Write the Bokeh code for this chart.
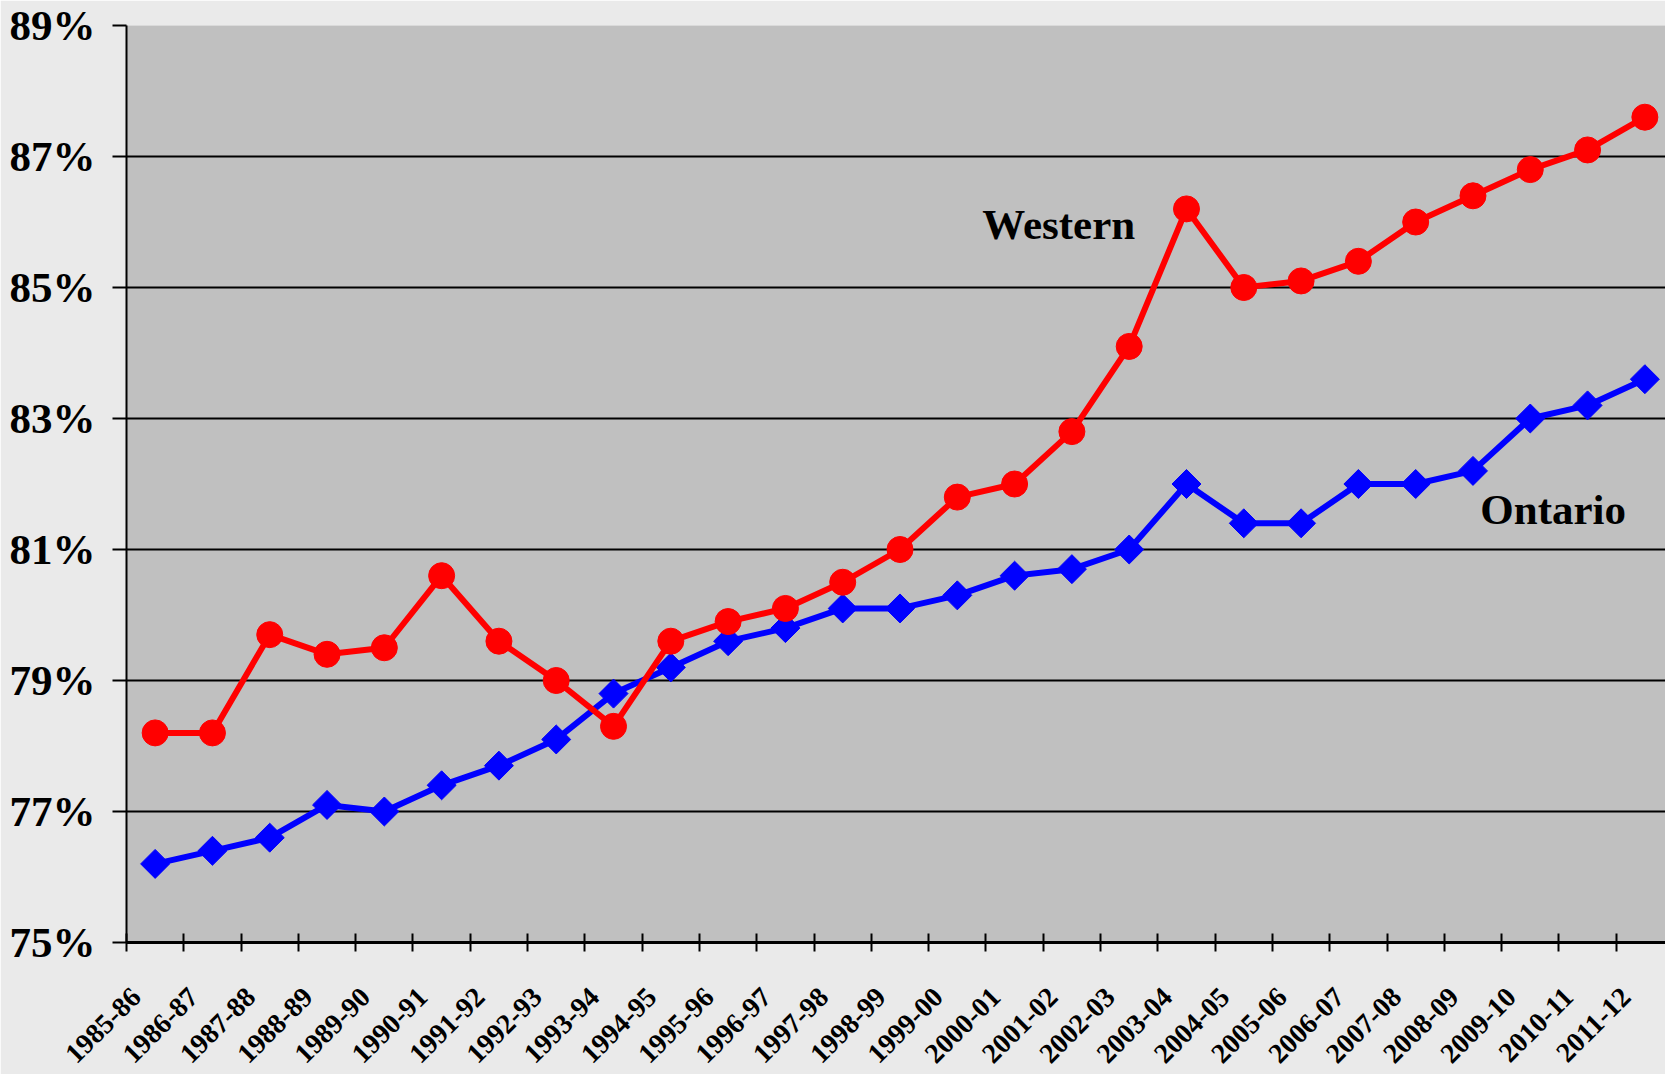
import numpy as np
from bokeh.plotting import figure
from bokeh.models import Range1d, FixedTicker, ColumnDataSource
from bokeh.core.properties import value
from bokeh.embed import file_html
from bokeh.resources import INLINE

years = ["1985-86", "1986-87", "1987-88", "1988-89", "1989-90", "1990-91", "1991-92",
         "1992-93", "1993-94", "1994-95", "1995-96", "1996-97", "1997-98", "1998-99",
         "1999-00", "2000-01", "2001-02", "2002-03", "2003-04", "2004-05", "2005-06",
         "2006-07", "2007-08", "2008-09", "2009-10", "2010-11", "2011-12"]
western = [78.2, 78.2, 79.7, 79.4, 79.5, 80.6, 79.6, 79.0, 78.3, 79.6, 79.9, 80.1, 80.5,
           81.0, 81.8, 82.0, 82.8, 84.1, 86.2, 85.0, 85.1, 85.4, 86.0, 86.4, 86.8, 87.1, 87.6]
ontario = [76.2, 76.4, 76.6, 77.1, 77.0, 77.4, 77.7, 78.1, 78.8, 79.2, 79.6, 79.8, 80.1,
           80.1, 80.3, 80.6, 80.7, 81.0, 82.0, 81.4, 81.4, 82.0, 82.0, 82.2, 83.0, 83.2, 83.6]
y_ticks = [75, 77, 79, 81, 83, 85, 87, 89]
series_labels = ["Western", "Ontario"]
label_pos_x = [16.27, 24.9]
label_pos_y = [85.96, 81.61]

FONT = "Liberation Serif"
xs = np.arange(len(years)) + 0.5
bounds = list(range(len(years) + 1))
# rotated labels end a little left of their category centre, as in the original
label_ticks = [float(x) - 0.33 for x in xs]

p = figure(width=1665, height=1074, output_backend="svg", toolbar_location=None,
           x_range=Range1d(0, 26.86), y_range=Range1d(75, 89),
           min_border_left=126, min_border_right=0, min_border_top=25, min_border_bottom=131)
p.background_fill_color = "#C0C0C0"
p.border_fill_color = "#EAEAEA"
p.outline_line_color = None

# x axis: labels near category centres, tick marks at category boundaries
p.xaxis.ticker = FixedTicker(ticks=label_ticks, minor_ticks=bounds)
p.xaxis.major_label_overrides = {t: y for t, y in zip(label_ticks, years)}
p.xaxis.major_label_orientation = np.pi / 4
p.xaxis.major_tick_in = 0
p.xaxis.major_tick_out = 0
p.xaxis.minor_tick_in = 9
p.xaxis.minor_tick_out = 9
p.xaxis.minor_tick_line_width = 2
p.xaxis.minor_tick_line_color = "black"
p.xaxis.axis_line_width = 3
p.xaxis.axis_line_color = "black"
p.xaxis.major_label_text_font = FONT
p.xaxis.major_label_text_font_style = "bold"
p.xaxis.major_label_text_font_size = "28px"
p.xaxis.major_label_text_color = "black"
p.xaxis.major_label_standoff = 41

# y axis
p.yaxis.ticker = FixedTicker(ticks=y_ticks)
p.yaxis.major_label_overrides = {t: f"{t}%" for t in y_ticks}
p.yaxis.major_tick_in = 0
p.yaxis.major_tick_out = 14
p.yaxis.major_tick_line_width = 2
p.yaxis.major_tick_line_color = "black"
p.yaxis.minor_tick_line_color = None
p.yaxis.axis_line_width = 2
p.yaxis.axis_line_color = "black"
p.yaxis.major_label_text_font = FONT
p.yaxis.major_label_text_font_style = "bold"
p.yaxis.major_label_text_font_size = "43px"
p.yaxis.major_label_text_color = "black"
p.yaxis.major_label_standoff = 17

p.xgrid.grid_line_color = None
p.ygrid.grid_line_color = "black"
p.ygrid.grid_line_width = 2
p.ygrid.ticker = FixedTicker(ticks=y_ticks)

src = ColumnDataSource(dict(x=xs, years=years, western=western, ontario=ontario))

p.line("x", "ontario", source=src, line_color="#0000FF", line_width=6)
p.scatter("x", "ontario", source=src, marker="square", angle=np.pi / 4, size=20.5,
          fill_color="#0000FF", line_color="#0000FF")
p.line("x", "western", source=src, line_color="#FF0000", line_width=6)
p.scatter("x", "western", source=src, marker="circle", size=26,
          fill_color="#FF0000", line_color="#FF0000")

p.text(x=label_pos_x, y=label_pos_y, text=series_labels, text_font=value(FONT),
       text_font_style="bold", text_font_size="43px", text_align="center",
       text_baseline="alphabetic", text_color="black")

open("out.html", "w").write(file_html(p, INLINE))
